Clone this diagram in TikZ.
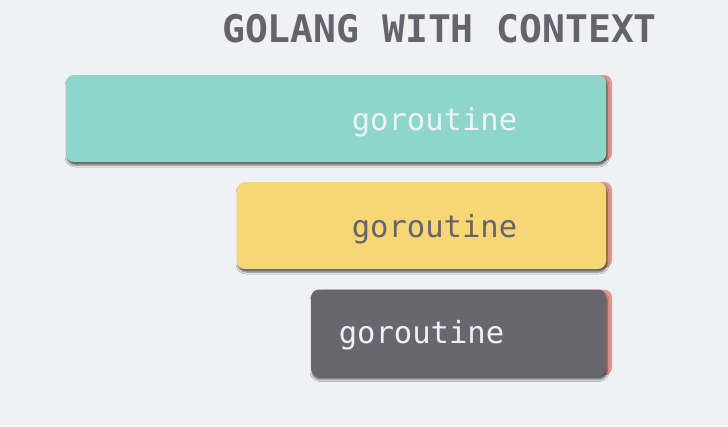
\documentclass[tikz,border=0pt]{standalone}
\usepackage{fontspec}
\setmonofont{DejaVu Sans Mono}
\usetikzlibrary{shadows.blur}
\definecolor{bgc}{HTML}{F0F1F3}
\definecolor{titlec}{HTML}{65646E}
\definecolor{tealc}{HTML}{8ED5CC}
\definecolor{yellowc}{HTML}{F7D675}
\definecolor{darkc}{HTML}{68666F}
\definecolor{salmonc}{HTML}{E0978F}
\definecolor{lightc}{HTML}{F0F1F3}
\tikzset{
  card/.style={rounded corners=8pt, minimum height=87pt, inner sep=0pt,
    blur shadow={shadow xshift=1pt, shadow yshift=-3pt, shadow blur radius=2pt, shadow opacity=60}},
  back/.style={rounded corners=8pt, fill=salmonc, minimum height=86pt, inner sep=0pt},
  lbl/.style={font=\ttfamily\fontsize{30.5}{30.5}\selectfont, anchor=base},
}
\begin{document}
\begin{tikzpicture}[x=1pt,y=-1pt]
\fill[bgc] (0,0) rectangle (728,426);
\useasboundingbox (0,0) rectangle (728,426);
\node[font=\ttfamily\bfseries\fontsize{38}{38}\selectfont, text=titlec, anchor=base, inner sep=0pt] (title) at (439.5,42) {GOLANG WITH CONTEXT};
% card 1
\node[back, minimum width=540pt] (b1) at (342,118) {};
\node[card, fill=tealc, minimum width=540pt] (c1) at (336,118.5) {};
\node[lbl, text=lightc] (t1) at (434.5,130.5) {goroutine};
% card 2
\node[back, minimum width=369pt] (b2) at (427.5,225) {};
\node[card, fill=yellowc, minimum width=369pt] (c2) at (421.5,225.5) {};
\node[lbl, text=titlec] (t2) at (434.5,237.5) {goroutine};
% card 3
\node[back, minimum width=295pt] (b3) at (464.5,332.5) {};
\node[card, fill=darkc, minimum width=295pt] (c3) at (458.5,333) {};
\node[lbl, text=lightc] (t3) at (421.5,343.5) {goroutine};
\end{tikzpicture}
\end{document}
